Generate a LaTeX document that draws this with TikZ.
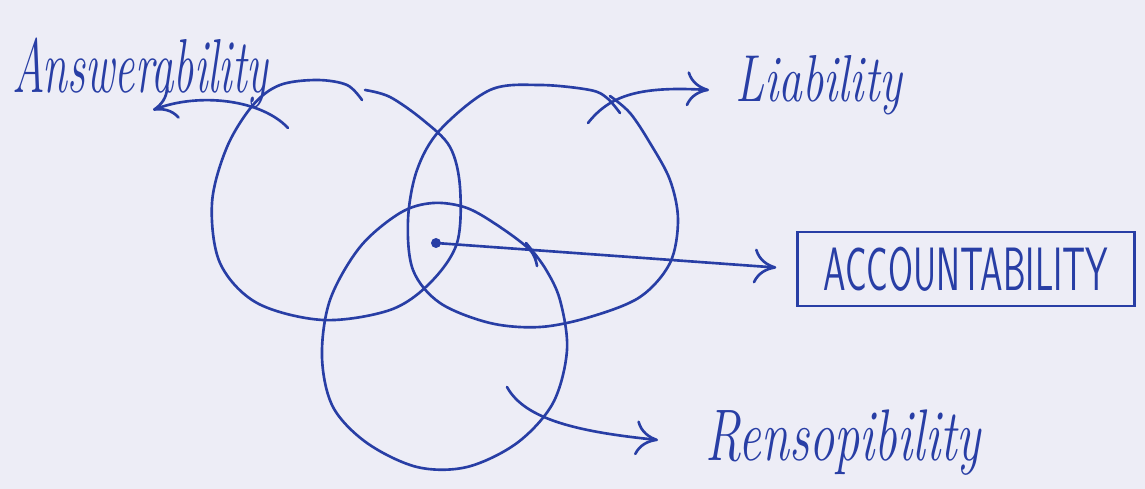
\documentclass[tikz,border=0pt]{standalone}
\usetikzlibrary{arrows.meta}
\definecolor{ink}{RGB}{40,62,165}
\definecolor{paper}{RGB}{237,237,246}
\tikzset{
  inkline/.style={draw=ink, line width=1.5pt, line cap=round, line join=round},
  arr/.style={inkline, -{Computer Modern Rightarrow[length=4.5mm,width=7mm]}},
  lab/.style={text=ink, inner sep=0pt, anchor=base west},
  boxnode/.style={draw=ink, line width=1.5pt, text=ink, minimum width=6.74cm, minimum height=1.48cm, inner sep=0pt},
  dotnode/.style={circle, fill=ink, inner sep=0pt, minimum size=0.2cm}
}
\begin{document}
\begin{tikzpicture}[x=0.02cm, y=-0.02cm]
\useasboundingbox (0,0) rectangle (1145,489);
\fill[paper] (0,0) rectangle (1145,489);

% circle A (Answerability)
\draw[inkline] plot[smooth, tension=0.55] coordinates {
 (362,100) (347,85) (317,80) (280,85) (253,105) (227,147) (212,203) (220,263)
 (257,303) (323,320) (390,310) (430,283) (457,243) (460,187) (450,147)
 (423,120) (390,97) (365,90)};
% circle L (Liability)
\draw[inkline] plot[smooth, tension=0.55] coordinates {
 (620,113) (607,98) (590,90) (540,85) (490,90) (440,130) (417,170) (408,220)
 (413,270) (440,303) (490,323) (540,327) (590,317) (640,297) (670,263)
 (678,220) (670,180) (650,143) (630,113) (610,96)};
% circle R (Responsibility)
\draw[inkline] plot[smooth, tension=0.55] coordinates {
 (537,266) (530,250) (500,227) (467,208) (433,203) (400,213) (360,247)
 (330,300) (322,357) (333,407) (367,443) (417,467) (467,467) (517,443)
 (553,403) (567,350) (560,300) (545,268) (526,243)};

% labels
\node[lab] (ans) at (12,93) {\scalebox{1}[1.7]{\fontsize{25.6}{30}\selectfont\itshape Answerability}};
\node[lab] (lia) at (735,102) {\scalebox{1}[1.4]{\fontsize{27}{32}\selectfont\itshape Liability}};
\node[lab] (res) at (705,460) {\scalebox{1}[1.45]{\fontsize{28.7}{34}\selectfont\itshape Rensopibility}};
\node[boxnode] (acc) at (966,269) {\scalebox{1}[1.7]{\fontsize{20.5}{24}\selectfont\sffamily ACCOUNTABILITY}};

% dot and arrow to accountability
\node[dotnode] (dot) at (436,243) {};
\draw[arr, shorten >=0.4cm] (dot.center) -- (acc.west);

% arrows from circles to labels
\coordinate (aS) at (288,128);
\coordinate (aE) at (153,110);
\draw[arr] (aS) .. controls (262,100) and (200,92) .. (aE);
\coordinate (lS) at (588,123);
\coordinate (lE) at (709,90);
\draw[arr] (lS) .. controls (610,95) and (640,86) .. (lE);
\coordinate (rS) at (507,387);
\coordinate (rE) at (658,440);
\draw[arr] (rS) .. controls (525,420) and (580,432) .. (rE);
\end{tikzpicture}
\end{document}
